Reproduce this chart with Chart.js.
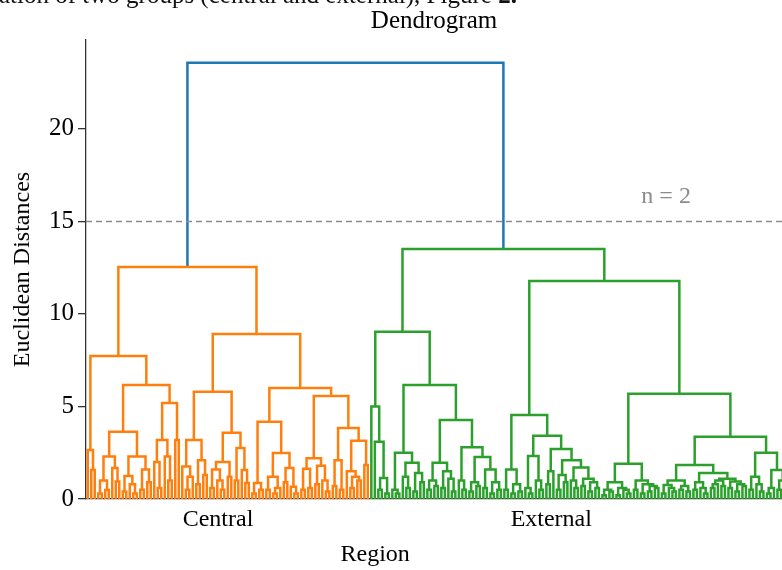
<!DOCTYPE html>
<html>
<head>
<meta charset="utf-8">
<script src="https://cdn.jsdelivr.net/npm/chart.js@4.4.1/dist/chart.umd.min.js"></script>
<style>
  html, body { margin: 0; padding: 0; background: #fff; }
  #wrap { position: relative; width: 782px; height: 570px; overflow: hidden; }
  #caption { position: absolute; left: -1px; top: -17px; font: 25px/24px "Liberation Serif", serif; white-space: nowrap; color: #111; }
  canvas { position: absolute; left: 0; top: 0; }
</style>
</head>
<body>
<div id="wrap">
  <canvas id="dendrogramChart" width="782" height="570"></canvas>
  <div id="caption">ation of two groups (central and external), Figure <b>2.</b></div>
</div>
<script>
// axis + labels
const yTicks = [0, 5, 10, 15, 20];
const yMax = 24.8;
const xMax = 1988;                 // figure is cropped on the right
const cutHeight = 15;              // dashed cut line -> 2 clusters
const cutLabel = 'n = 2';
const cutLabelPos = [1657, 15];
const regionNames = ['Central', 'External'];
const regionTickPos = [377, 1329]; // leaf units, leaf i sits at 5 + 10*i
const xTitle = 'Region';
const xTitlePos = 826;
const rootHeight = 23.57;

// subtrees, written as (left,right)height, x = one sample
const centralLeft = [
  "(x,(x,x)1.57)2.65",
  "(((x,x)0.3,(x,x)0.49)1.0,(x,(x,x)0.94)1.68)2.29",
  "(((x,x)0.4,(x,(x,x)0.3)0.8)1.24,((x,x)0.5,(x,x)0.9)1.6)2.3",
  "((x,(x,x)0.6)2.0,(x,(x,x)1.0)2.3)3.19",
  "(x,x)3.19"
];
const centralRight = [
  "((x,((x,x)0.5,x)1.2)1.75,((x,x)0.8,(x,x)1.3)2.1)3.19",
  "((((x,x)0.6,(x,(x,x)0.5)1.0)1.6,(x,x)1.2)2.0,((x,x)1.0,(x,(x,x)0.86)1.57)2.76)3.58",
  "(((x,x)0.3,(x,x)0.5)0.86,(((x,x)0.5,((x,x)0.3,x)0.6)1.2,((x,x)0.9,(x,(x,x)0.3)0.66)1.68)2.48)4.18",
  "(((x,x)0.5,(x,x)0.6)1.64,((x,x)0.8,(x,(x,x)0.4)1.0)1.79)2.2",
  "(((x,x)0.7,(x,x)0.5)2.1,((x,((x,x)0.6,(x,x)1.0)1.2)1.5,(x,x)1.84)3.15)3.84"
];
const externalLeft = [
  "(x,(x,((x,x)0.5,(x,x)0.3)1.13)3.1)5.0",
  "((x,(x,x)0.3)0.5,((x,(x,x)0.6)1.2,((x,x)0.4,(x,x)0.9)1.4)1.96)2.5",
  "(((x,x)0.5,(x,x)0.7)1.0,((x,x)0.6,(x,(x,x)0.4)1.1)1.5)1.96",
  "((x,(x,x)0.5)1.0,(((x,x)0.4,(x,x)0.7)0.9,((x,x)0.6,((x,x)0.3,(x,x)0.5)0.9)1.6)2.27)2.8"
];
const externalRight = [
  "((x,x)0.5,((x,x)0.3,(x,x)0.4)0.8)1.6",
  "((x,(x,x)0.3)0.6,(x,(x,x)0.5)1.0)2.32",
  "(((x,x)0.8,x)1.5,(((x,x)0.5,(x,x)0.9)1.3,((x,(x,x)0.6)1.0,((x,x)0.7,((x,x)0.4,(x,x)0.6)0.9)1.1)1.7)2.1)2.7",
  "((((x,x)0.2,(x,x)0.4)0.5,((x,x)0.2,(x,(x,x)0.3)0.5)0.6)0.9,((x,x)0.5,((x,x)0.3,((x,x)0.4,(x,x)0.6)0.7)0.8)1.0)1.9",
  "((((x,x)0.3,(x,(x,x)0.4)0.6)0.76,((x,x)0.5,(x,x)0.4)0.7)1.0,(((x,x)0.5,(x,(x,x)0.3)0.6)0.9,((((x,x)0.6,x)0.8,(x,x)0.7)1.0,((x,x)0.6,((x,x)0.4,(x,x)0.7)0.8)0.95)1.1)1.4)1.84",
  "(((x,x)0.5,(x,(x,x)0.4)0.8)1.2,(((x,x)0.3,x)0.6,((x,x)0.5,(x,x)0.7)1.0)1.57)2.5"
];

const [cA, cB, cC, cD, cE] = centralLeft;
const [cF, cG, cH, cI, cJ] = centralRight;
const [eA, eB, eC, eD] = externalLeft;
const [eE, eF, eG, eH, eI, eJ] = externalRight;

const centralTree = `((${cA},((${cB},${cC})3.64,(${cD},${cE})5.19)6.16)7.73,((${cF},${cG})5.8,(${cH},(${cI},${cJ})5.57)6.0)8.92)12.54`;
const externalTree = `((${eA},(${eB},(${eC},${eD})4.27)6.16)9.03,((${eE},(${eF},${eG})3.42)4.54,(${eH},(${eI},${eJ})3.37)5.68)11.78)13.51`;
const fullTree = `(${centralTree},${externalTree})${rootHeight}`;

const colors = { above: '#1f77b4', central: '#ff7f0e', external: '#2ca02c' };

function parseTree(str) {
  const s = str.replace(/\s+/g, '');
  let i = 0;
  function node() {
    if (s[i] === 'x') { i++; return { leaf: true }; }
    i++; // (
    const left = node();
    i++; // ,
    const right = node();
    i++; // )
    const m = /^[0-9.]+/.exec(s.slice(i));
    i += m[0].length;
    return { h: parseFloat(m[0]), left, right };
  }
  return node();
}

let leafCount = 0;
function place(n) {
  if (n.leaf) { n.x = 5 + 10 * leafCount++; n.y = 0; return; }
  place(n.left);
  place(n.right);
  n.x = (n.left.x + n.right.x) / 2;
  n.y = n.h;
}

// each link is a U: left foot, left top, right top, right foot, then a gap
function link(n) {
  return [
    { x: n.left.x, y: n.left.y },
    { x: n.left.x, y: n.h },
    { x: n.right.x, y: n.h },
    { x: n.right.x, y: n.right.y },
    { x: null, y: null }
  ];
}

const segments = { above: [], central: [], external: [] };
function collect(n, group) {
  if (n.leaf) return;
  const key = n.h > cutHeight ? 'above' : group;
  segments[key].push(...link(n));
  collect(n.left, group);
  collect(n.right, group);
}

const tree = parseTree(fullTree);
place(tree);
segments.above.push(...link(tree));
collect(tree.left, 'central');
collect(tree.right, 'external');

const extras = {
  id: 'extras',
  afterDatasetsDraw(chart) {
    const { ctx, chartArea, scales: { x, y } } = chart;
    const py = y.getPixelForValue(cutHeight);
    ctx.save();
    ctx.strokeStyle = '#8c8c8c';
    ctx.lineWidth = 1.5;
    ctx.setLineDash([6, 4]);
    ctx.beginPath();
    ctx.moveTo(chartArea.left, py);
    ctx.lineTo(chartArea.right, py);
    ctx.stroke();
    ctx.setLineDash([]);
    ctx.fillStyle = '#8c8c8c';
    ctx.font = '24px "Liberation Serif"';
    ctx.textAlign = 'center';
    ctx.textBaseline = 'alphabetic';
    ctx.fillText(cutLabel, x.getPixelForValue(cutLabelPos[0]), py - 18);
    // x axis title
    ctx.fillStyle = '#000';
    ctx.textBaseline = 'middle';
    ctx.fillText(xTitle, x.getPixelForValue(xTitlePos), chart.height - 15);
    ctx.restore();
  }
};

Chart.defaults.font.family = '"Liberation Serif", "Times New Roman", serif';
Chart.defaults.color = '#000';

function lineSet(key) {
  return {
    data: segments[key],
    borderColor: colors[key],
    borderWidth: 2.5,
    showLine: true,
    spanGaps: false,
    pointRadius: 0,
    pointHoverRadius: 0,
    tension: 0
  };
}

const ctx = document.getElementById('dendrogramChart').getContext('2d');
new Chart(ctx, {
  type: 'scatter',
  data: { datasets: [lineSet('central'), lineSet('external'), lineSet('above')] },
  options: {
    responsive: false,
    animation: false,
    devicePixelRatio: 1,
    layout: { padding: 0 },
    plugins: {
      legend: { display: false },
      tooltip: { enabled: false },
      title: {
        display: true,
        fullSize: false,
        text: 'Dendrogram',
        font: { size: 25, weight: 'normal' },
        color: '#000',
        padding: { top: 6, bottom: 4 }
      }
    },
    scales: {
      x: {
        type: 'linear',
        min: 0,
        max: xMax,
        afterBuildTicks: (scale) => { scale.ticks = regionTickPos.map(v => ({ value: v })); },
        afterFit: (scale) => { scale.height = 71; },
        ticks: {
          callback: (v, i) => regionNames[i],
          font: { size: 24 },
          padding: 6,
          maxRotation: 0,
          autoSkip: false
        },
        grid: { display: false, drawTicks: false },
        border: { display: true, color: '#333', width: 1.3 }
      },
      y: {
        min: 0,
        max: yMax,
        afterBuildTicks: (scale) => { scale.ticks = yTicks.map(v => ({ value: v })); },
        afterFit: (scale) => { scale.width = 86; },
        ticks: { font: { size: 25 }, padding: 4 },
        grid: { drawOnChartArea: false, drawTicks: true, tickLength: 8, color: '#333', lineWidth: 1.3 },
        border: { display: true, color: '#333', width: 1.3 },
        title: { display: true, text: 'Euclidean Distances', font: { size: 24 }, padding: { top: 8, bottom: 0 } }
      }
    }
  },
  plugins: [extras]
});
</script>
</body>
</html>
